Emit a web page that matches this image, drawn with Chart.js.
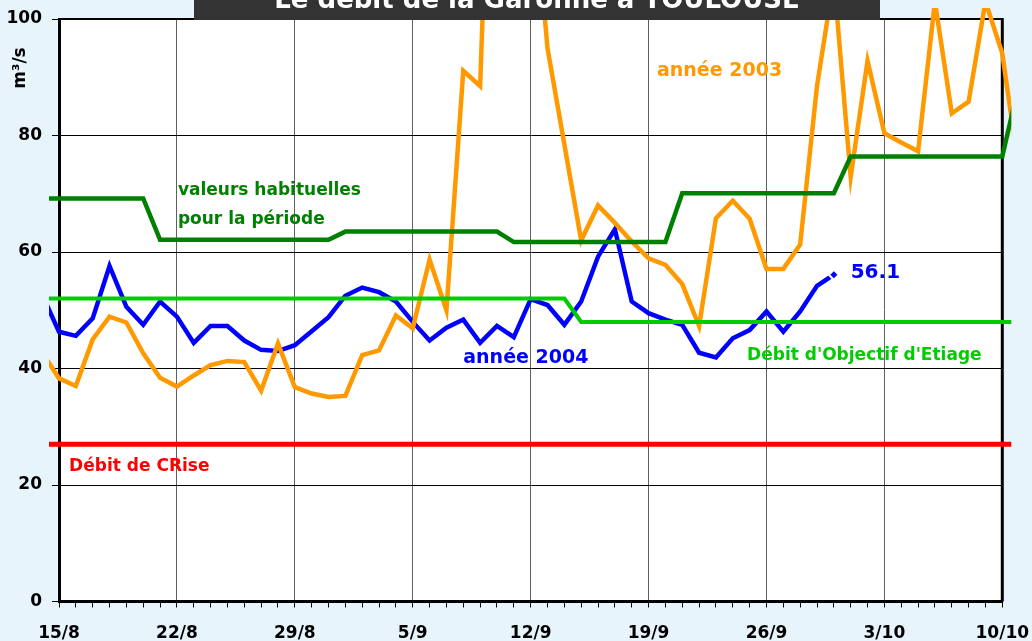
<!DOCTYPE html>
<html lang="fr">
<head>
<meta charset="utf-8">
<title>Le débit de la Garonne à TOULOUSE</title>
<script src="https://cdn.jsdelivr.net/npm/chart.js@4.4.1/dist/chart.umd.min.js"></script>
<style>
  html, body { margin: 0; padding: 0; background: #e8f4fc; }
  #wrap { position: relative; width: 1032px; height: 641px; overflow: hidden; }
</style>
</head>
<body>
<div id="wrap"><canvas id="chartDebit" width="1032" height="641"></canvas></div>
<script>
// Jours comptés depuis le 15/8 (jour -1 et 57 : hors cadre, coupés au bord)
const firstDay = -1;
const weekLabels = ['15/8', '22/8', '29/8', '5/9', '12/9', '19/9', '26/9', '3/10', '10/10'];

// année 2004 (jour -1 .. 46)
const flow2004 = [52.7, 46.3, 45.6, 48.6, 57.6, 50.6, 47.5, 51.5, 48.9, 44.4,
  47.3, 47.3, 44.8, 43.2, 43.0, 44.0, 46.4, 48.8, 52.5, 53.9,
  53.1, 51.5, 48.0, 44.8, 47.0, 48.4, 44.4, 47.3, 45.4, 51.9,
  50.9, 47.5, 51.5, 59.2, 63.9, 51.5, 49.5, 48.4, 47.5, 42.7,
  41.9, 45.2, 46.6, 49.8, 46.3, 49.8, 54.2, 56.1];

// année 2003 (jour -1 .. 57)
const flow2003 = [42.8, 38.3, 37.0, 45.0, 48.9, 47.9, 42.6, 38.4, 36.9, 38.8,
  40.6, 41.3, 41.1, 36.2, 44.3, 36.8, 35.7, 35.1, 35.3, 42.3,
  43.1, 49.1, 46.9, 58.7, 50.0, 91.1, 88.5, 170, 160, 128,
  95.0, 78.5, 62.0, 68.0, 65.0, 61.8, 58.9, 57.8, 54.5, 47.3,
  65.8, 68.8, 65.7, 57.1, 57.1, 61.3, 88.5, 107, 72.9, 92.8,
  80.4, 78.8, 77.3, 103, 83.8, 85.8, 103, 94.1, 73.7];

// valeurs habituelles pour la période (jour -1 .. 57)
const usualFlow = [69.2, 69.2, 69.2, 69.2, 69.2, 69.2, 69.2,
  62.1, 62.1, 62.1, 62.1, 62.1, 62.1, 62.1, 62.1, 62.1, 62.1, 62.1,
  63.5, 63.5, 63.5, 63.5, 63.5, 63.5, 63.5, 63.5, 63.5, 63.5,
  61.7, 61.7, 61.7, 61.7, 61.7, 61.7, 61.7, 61.7, 61.7, 61.7,
  70.1, 70.1, 70.1, 70.1, 70.1, 70.1, 70.1, 70.1, 70.1, 70.1,
  76.4, 76.4, 76.4, 76.4, 76.4, 76.4, 76.4, 76.4, 76.4, 76.4,
  89.0];

// Débit d'Objectif d'Etiage (jour -1 .. 57)
const doeFlow = [52, 52, 52, 52, 52, 52, 52, 52, 52, 52, 52, 52, 52, 52, 52, 52,
  52, 52, 52, 52, 52, 52, 52, 52, 52, 52, 52, 52, 52, 52, 52, 52,
  48, 48, 48, 48, 48, 48, 48, 48, 48, 48, 48, 48, 48, 48, 48, 48,
  48, 48, 48, 48, 48, 48, 48, 48, 48, 48, 48];

// Débit de CRise
const crisisFlow = 27;
const crisisDays = [-1, 57];

const yTicks = [0, 20, 40, 60, 80, 100];

const toPoints = arr => arr.map((v, i) => ({ x: firstDay + i, y: v }));

const colBlue = '#0000ff';
const colOrange = '#ff9900';
const colDarkGreen = '#008000';
const colGreen = '#00cc00';
const colRed = '#ff0000';
const fontName = '"DejaVu Sans", Verdana, sans-serif';

const lineClip = { left: 10, top: 11, right: 9, bottom: 0 };

// fond, cadre, textes et bandeau du titre
const decorPlugin = {
  id: 'decor',
  beforeDraw(chart) {
    const { ctx, chartArea: a } = chart;
    ctx.save();
    ctx.fillStyle = '#e8f4fc';
    ctx.fillRect(0, 0, chart.width, chart.height);
    ctx.fillStyle = '#ffffff';
    ctx.fillRect(a.left, a.top, a.right - a.left, a.bottom - a.top);
    ctx.restore();
  },
  beforeDatasetsDraw(chart) {
    const { ctx, chartArea: a } = chart;
    ctx.save();
    ctx.strokeStyle = '#000';
    ctx.lineWidth = 2;
    ctx.beginPath();
    ctx.moveTo(a.left, a.top);
    ctx.lineTo(a.right, a.top);
    ctx.stroke();
    ctx.lineWidth = 3;
    ctx.beginPath();
    ctx.moveTo(a.right, a.top - 1);
    ctx.lineTo(a.right, a.bottom);
    ctx.stroke();
    ctx.restore();
  },
  afterDatasetsDraw(chart) {
    const { ctx, scales: { x, y } } = chart;
    const notes = [
      ['valeurs habituelles', 7.06, 70.5, colDarkGreen, 17],
      ['pour la période', 7.06, 65.5, colDarkGreen, 17],
      ['année 2003', 35.5, 91.1, colOrange, 19],
      ['année 2004', 24.0, 41.8, colBlue, 19],
      ['56.1', 47.0, 56.4, colBlue, 20],
      ["Débit d'Objectif d'Etiage", 40.85, 42.3, colGreen, 17],
      ['Débit de CRise', 0.6, 23.1, colRed, 17]
    ];
    ctx.save();
    ctx.textBaseline = 'middle';
    ctx.textAlign = 'left';
    notes.forEach(([txt, d, v, col, size]) => {
      ctx.font = 'bold ' + size + 'px ' + fontName;
      ctx.fillStyle = col;
      ctx.fillText(txt, x.getPixelForValue(d), y.getPixelForValue(v));
    });

    // unité de l'axe
    ctx.translate(21, 68);
    ctx.rotate(-Math.PI / 2);
    ctx.font = 'bold 17px ' + fontName;
    ctx.fillStyle = '#000';
    ctx.textAlign = 'center';
    ctx.fillText('m³/s', 0, 0);
    ctx.restore();

    // bandeau du titre (coupé en haut)
    ctx.save();
    ctx.fillStyle = '#333333';
    ctx.fillRect(194, 0, 686, 20);
    ctx.beginPath();
    ctx.rect(194, 0, 686, 20);
    ctx.clip();
    ctx.fillStyle = '#ffffff';
    ctx.font = 'bold 26px ' + fontName;
    ctx.textAlign = 'center';
    ctx.textBaseline = 'alphabetic';
    ctx.fillText('Le débit de la Garonne à TOULOUSE', 537, 8);
    ctx.restore();
  }
};

const ctxDebit = document.getElementById('chartDebit');
const last2004 = flow2004.length - 1;

new Chart(ctxDebit, {
  type: 'line',
  data: {
    datasets: [
      {
        label: 'Débit de CRise',
        data: crisisDays.map(d => ({ x: d, y: crisisFlow })),
        borderColor: colRed,
        borderWidth: 5,
        pointRadius: 0,
        clip: lineClip
      },
      {
        label: "Débit d'Objectif d'Etiage",
        data: toPoints(doeFlow),
        borderColor: colGreen,
        borderWidth: 4,
        pointRadius: 0,
        clip: lineClip
      },
      {
        label: 'valeurs habituelles',
        data: toPoints(usualFlow),
        borderColor: colDarkGreen,
        borderWidth: 4.5,
        pointRadius: 0,
        clip: lineClip
      },
      {
        label: 'année 2003',
        data: toPoints(flow2003),
        borderColor: colOrange,
        borderWidth: 4.5,
        pointRadius: 0,
        clip: lineClip
      },
      {
        label: 'année 2004',
        data: toPoints(flow2004),
        borderColor: colBlue,
        borderWidth: 4.5,
        pointStyle: 'rectRot',
        pointRadius: c => c.dataIndex === last2004 ? 5 : 0,
        pointBackgroundColor: colBlue,
        pointBorderColor: '#ffffff',
        pointBorderWidth: 2,
        clip: lineClip
      }
    ]
  },
  options: {
    responsive: false,
    animation: false,
    events: [],
    layout: { padding: { top: 19, right: 29.7, left: 0, bottom: 0 } },
    plugins: {
      legend: { display: false },
      tooltip: { enabled: false }
    },
    scales: {
      x: {
        type: 'linear',
        min: 0,
        max: 56.0001, // un poil au-delà pour que le segment vers le jour 57 soit tracé
        afterFit: s => { s.height = 39.5; s.paddingLeft = 0; s.paddingRight = 0; },
        grid: {
          color: c => (c.tick && Math.round(c.tick.value) % 7 === 0) ? '#606060' : 'rgba(0,0,0,0)',
          tickColor: '#000',
          tickLength: 6,
          lineWidth: 1
        },
        border: { color: '#000', width: 3 },
        ticks: {
          stepSize: 1,
          autoSkip: false,
          maxRotation: 0,
          padding: 16,
          color: '#000',
          font: { family: fontName, size: 17, weight: 'bold' },
          callback: v => {
            const d = Math.round(v);
            return (d % 7 === 0) ? weekLabels[d / 7] : '';
          }
        }
      },
      y: {
        min: 0,
        max: 100,
        afterFit: s => { s.width = 59; s.paddingTop = 0; s.paddingBottom = 0; },
        afterBuildTicks: s => { s.ticks = yTicks.map(v => ({ value: v })); },
        grid: { color: '#000', tickColor: '#000', tickLength: 7, lineWidth: 1 },
        border: { color: '#000', width: 3 },
        ticks: {
          padding: 10,
          color: '#000',
          font: { family: fontName, size: 17, weight: 'bold' }
        }
      }
    }
  },
  plugins: [decorPlugin]
});
</script>
</body>
</html>
